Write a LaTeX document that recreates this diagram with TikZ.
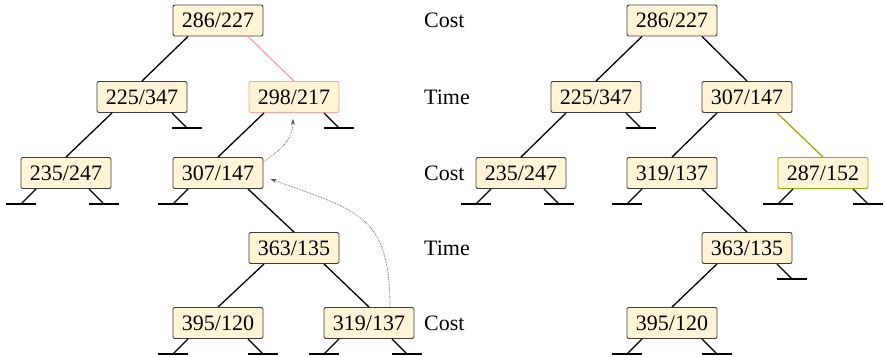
\documentclass[tikz,border=0pt]{standalone}
\usepackage{fontspec}
\setmainfont{Liberation Serif}
\usetikzlibrary{arrows.meta}
\definecolor{boxfill}{RGB}{255,244,214}
\definecolor{boxline}{RGB}{60,60,60}
\definecolor{pinkline}{RGB}{245,165,165}
\definecolor{greenline}{RGB}{140,176,28}
\definecolor{dotcol}{RGB}{80,80,80}
\newcommand{\nullL}[2]{\draw[edge] ([xshift=-#2pt]#1.south) -- ++(-15,-15);
  \draw[edge] ([xshift=-#2pt]#1.south) ++(0,-15) -- ++(-30,0);}
\newcommand{\nullR}[2]{\draw[edge] ([xshift=#2pt]#1.south) -- ++(15,-15);
  \draw[edge] ([xshift=#2pt]#1.south) ++(0,-15) -- ++(30,0);}
\begin{document}
\begin{tikzpicture}[x=1pt,y=1pt,
  tbox/.style={draw=boxline,fill=boxfill,rounded corners=2pt,line width=0.9pt,
    minimum width=90pt,minimum height=31pt,inner sep=0pt,
    font=\fontsize{22}{26}\selectfont},
  pinkbox/.style={tbox,draw=pinkline},
  greenbox/.style={tbox,draw=greenline},
  edge/.style={line width=1.3pt,black},
  rowlabel/.style={anchor=west,inner sep=0pt,font=\fontsize{22}{26}\selectfont},
  dotarrow/.style={densely dotted,line width=0.7pt,dotcol,-{Stealth[length=6pt,width=4pt]}}]
\useasboundingbox (0,0) rectangle (885,-356);
% left tree
\node[tbox] (L286) at (218,-20.5) {286/227};
\node[tbox] (L225) at (142,-97) {225/347};
\node[pinkbox] (L298) at (294,-97) {298/217};
\node[tbox] (L235) at (66,-173) {235/247};
\node[tbox] (L307) at (218,-173) {307/147};
\node[tbox] (L363) at (294,-248) {363/135};
\node[tbox] (L395) at (218,-323) {395/120};
\node[tbox] (L319) at (369,-323) {319/137};
% right tree
\node[tbox] (R286) at (672,-20.5) {286/227};
\node[tbox] (R225) at (596,-97) {225/347};
\node[tbox] (R307) at (747,-97) {307/147};
\node[tbox] (R235) at (521,-173) {235/247};
\node[tbox] (R319) at (672,-173) {319/137};
\node[greenbox] (R287) at (823,-173) {287/152};
\node[tbox] (R363) at (747,-248) {363/135};
\node[tbox] (R395) at (672,-323) {395/120};
% row labels
\node[rowlabel] (c1) at (424,-20) {Cost};
\node[rowlabel] (t1) at (424,-97) {Time};
\node[rowlabel] (c2) at (424,-173) {Cost};
\node[rowlabel] (t2) at (424,-248) {Time};
\node[rowlabel] (c3) at (424,-323) {Cost};
% left edges
\draw[edge] ([xshift=-30pt]L286.south) -- (L225.north);
\draw[edge,pinkline] ([xshift=30pt]L286.south) -- (L298.north);
\draw[edge] ([xshift=-30pt]L225.south) -- (L235.north);
\draw[edge] ([xshift=-30pt]L298.south) -- (L307.north);
\draw[edge] ([xshift=30pt]L307.south) -- (L363.north);
\draw[edge] ([xshift=-30pt]L363.south) -- (L395.north);
\draw[edge] ([xshift=30pt]L363.south) -- (L319.north);
\nullR{L225}{30}
\nullR{L298}{30}
\nullL{L235}{30}
\nullR{L235}{23}
\nullL{L307}{30}
\nullL{L395}{30}
\nullR{L395}{30}
\nullL{L319}{30}
\nullR{L319}{23}
% right edges
\draw[edge] ([xshift=-30pt]R286.south) -- (R225.north);
\draw[edge] ([xshift=30pt]R286.south) -- (R307.north);
\draw[edge] ([xshift=-30pt]R225.south) -- (R235.north);
\draw[edge] ([xshift=-30pt]R307.south) -- (R319.north);
\draw[edge,greenline] ([xshift=30pt]R307.south) -- (R287.north);
\draw[edge] ([xshift=30pt]R319.south) -- (R363.north);
\draw[edge] ([xshift=-30pt]R363.south) -- (R395.north);
\nullR{R225}{30}
\nullL{R235}{30}
\nullR{R235}{23}
\nullL{R319}{30}
\nullL{R287}{30}
\nullR{R287}{30}
\nullR{R363}{30}
\nullL{R395}{30}
\nullR{R395}{30}
% dotted arrows
\draw[dotarrow] ([yshift=-5pt]L307.north east) to[out=35,in=-90] ([xshift=-1pt,yshift=-6pt]L298.south);
\draw[dotarrow] ([xshift=21pt]L319.north) to[out=90,in=-20,looseness=1.35] ([xshift=7pt,yshift=-6pt]L307.east);
\end{tikzpicture}
\end{document}
